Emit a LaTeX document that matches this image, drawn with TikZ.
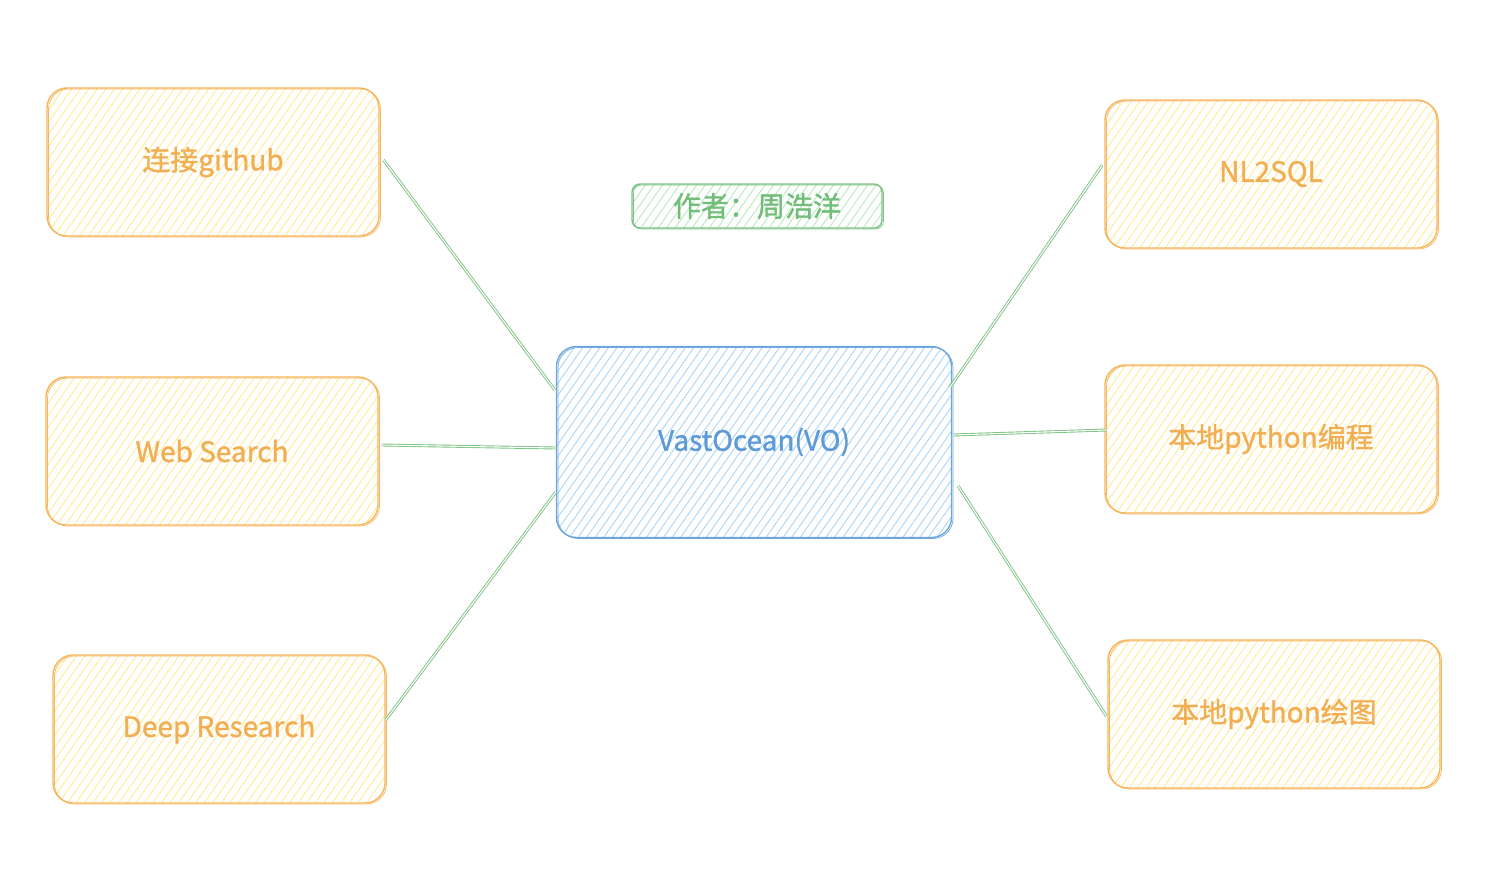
\documentclass[tikz,border=0pt]{standalone}
\usepackage{fontspec}
\setmainfont{Noto Sans CJK SC}[BoldFont=Noto Sans CJK SC, BoldFeatures={FakeBold=1.2}]
\usetikzlibrary{calc,patterns.meta}
\definecolor{ostroke}{HTML}{F6B65E}
\definecolor{ofill}{HTML}{FFEBA0}
\definecolor{otext}{HTML}{F2AE52}
\definecolor{bstroke}{HTML}{6FA6DE}
\definecolor{bfill}{HTML}{AED8FA}
\definecolor{btext}{HTML}{5E9BD6}
\definecolor{gstroke}{HTML}{7CC283}
\definecolor{gfill}{HTML}{BDEBC2}
\definecolor{gtext}{HTML}{72BD79}
\tikzset{
  sketch/.style={rectangle, rounded corners=20pt, line width=1.4pt,
    font=\fontsize{28}{32}\selectfont\bfseries,
    postaction={draw, line width=0.7pt, transform canvas={xshift=1.5pt,yshift=-1pt}}},
  obox/.style={sketch, draw=ostroke, text=otext, minimum width=332pt, minimum height=148pt,
    pattern={Lines[angle=55,distance=7pt,line width=1pt]}, pattern color=ofill},
  bbox/.style={sketch, draw=bstroke, text=btext, minimum width=395pt, minimum height=191pt,
    pattern={Lines[angle=55,distance=7pt,line width=1pt]}, pattern color=bfill},
  gbox/.style={sketch, rounded corners=8pt, draw=gstroke, text=gtext, minimum width=250pt, minimum height=44pt,
    pattern={Lines[angle=55,distance=7pt,line width=1pt]}, pattern color=gfill},
  link/.style={draw=gstroke, line width=0.9pt, double=white, double distance=1.1pt},
}
\begin{document}
\begin{tikzpicture}[x=1pt,y=-1pt]
\useasboundingbox (0,0) rectangle (1501,887);
\node[obox] (g) at (213,162) {连接github};
\node[obox] (w) at (212,451) {Web Search};
\node[obox] (d) at (219,729) {Deep Research};
\node[obox] (n) at (1271,174) {NL2SQL};
\node[obox] (p) at (1271,439) {本地python编程};
\node[obox] (h) at (1274,714) {本地python绘图};
\node[bbox] (c) at (754,442) {VastOcean(VO)};
\node[gbox] (a) at (757,206) {作者：周浩洋};
\draw[link] ($(g.east)+(4,-2)$) -- ($(c.west)+(-1,-52)$);
\draw[link] ($(w.east)+(3,-6)$) -- ($(c.west)+(0,6)$);
\draw[link] ($(d.east)+(0,-9)$) -- ($(c.west)+(0,50)$);
\draw[link] ($(c.east)+(-2,-55)$) -- ($(n.west)+(-2,-9)$);
\draw[link] ($(c.east)+(1,-7)$) -- ($(p.west)+(2,-9)$);
\draw[link] ($(c.east)+(6,44)$) -- ($(h.west)+(-1,2)$);
\end{tikzpicture}
\end{document}
